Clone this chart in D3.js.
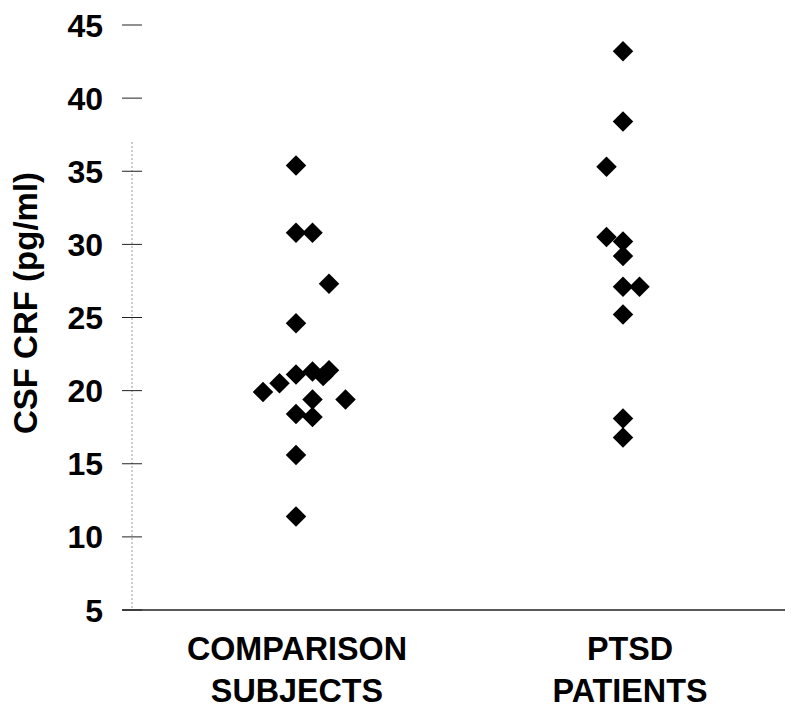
<!DOCTYPE html>
<html>
<head>
<meta charset="utf-8">
<script src="https://d3js.org/d3.v7.min.js"></script>
<style>
body { margin: 0; background: #fff; }
text { font-family: Arial, "Liberation Sans", sans-serif; font-weight: bold; fill: #000; }
</style>
</head>
<body>
<svg id="chart" width="800" height="719"></svg>
<script>
// groups and their labels (two lines each)
var groups = ["comparison", "ptsd"]
var groupLabels = [["COMPARISON", "SUBJECTS"], ["PTSD", "PATIENTS"]]
var yTicks = [5, 10, 15, 20, 25, 30, 35, 40, 45]

// CSF CRF values, with their column slot in the dot plot
var comparisonValues = [35.4, 30.8, 30.8, 27.3, 24.6, 21.1, 21.3, 21.0, 21.4, 20.5, 19.9, 19.4, 19.4, 18.4, 18.2, 15.6, 11.4]
var comparisonSlots  = [0,    0,    1,    2,    0,    0,    1,    1.65, 2,    -1,   -2,   1,    3,    0,    1,    0,    0]
var ptsdValues = [43.2, 38.4, 35.3, 30.5, 30.2, 29.2, 27.1, 27.1, 25.2, 18.1, 16.8]
var ptsdSlots  = [0,    0,    -1,   -1,   0,    0,    0,    1,    0,    0,    0]

var svg = d3.select("#chart")

var y = d3.scaleLinear().domain([5, 45]).range([610, 25])
var x = d3.scalePoint().domain(groups).range([296, 623])
var slot = d3.scaleLinear().domain([0, 1]).range([0, 16.5])
var axisX = 132

// y axis: faint vertical line, ticks crossing it
svg.append("line")
    .attr("x1", axisX).attr("x2", axisX)
    .attr("y1", y(37)).attr("y2", y(5))
    .style("stroke", "#999")
    .style("stroke-width", 1)
    .style("stroke-dasharray", "2,2")

var tick = svg.append("g").selectAll("g").data(yTicks).join("g")
    .attr("transform", d => "translate(0," + y(d) + ")")
tick.append("line")
    .attr("x1", axisX - 10).attr("x2", axisX + 10)
    .style("stroke", "#222")
    .style("stroke-width", 1)
tick.append("text")
    .attr("x", 103)
    .attr("dy", "0.36em")
    .attr("text-anchor", "end")
    .style("font-size", "32px")
    .text(d => d)

// x axis baseline
svg.append("line")
    .attr("x1", axisX - 10).attr("x2", 785)
    .attr("y1", y(5)).attr("y2", y(5))
    .style("stroke", "#222")
    .style("stroke-width", 1.5)

// y title
svg.append("text")
    .attr("transform", "translate(37,303) rotate(-90)")
    .attr("text-anchor", "middle")
    .style("font-size", "33px")
    .text("CSF CRF (pg/ml)")

// group labels, squeezed a little like the condensed original type
groups.forEach(function(g, i) {
    var t = svg.append("text")
        .attr("text-anchor", "middle")
        .style("font-size", "34px")
    groupLabels[i].forEach(function(line, j) {
        var span = t.append("tspan")
            .attr("x", x(g) + (i == 1 ? 7 : 1))
            .attr("y", 660 + j * 42)
            .text(line)
        var w = span.node().getComputedTextLength()
        span.attr("textLength", w * 0.95).attr("lengthAdjust", "spacingAndGlyphs")
    })
})

// points
var points = []
comparisonValues.forEach((v, i) => points.push({group: "comparison", value: v, slot: comparisonSlots[i]}))
ptsdValues.forEach((v, i) => points.push({group: "ptsd", value: v, slot: ptsdSlots[i]}))

var diamond = d3.symbol().type(d3.symbolSquare).size(14.5 * 14.5)
svg.append("g").selectAll("path").data(points).join("path")
    .attr("d", diamond)
    .attr("transform", d => "translate(" + (x(d.group) + slot(d.slot)) + "," + y(d.value) + ") rotate(45)")
    .style("fill", "#000")
</script>
</body>
</html>
